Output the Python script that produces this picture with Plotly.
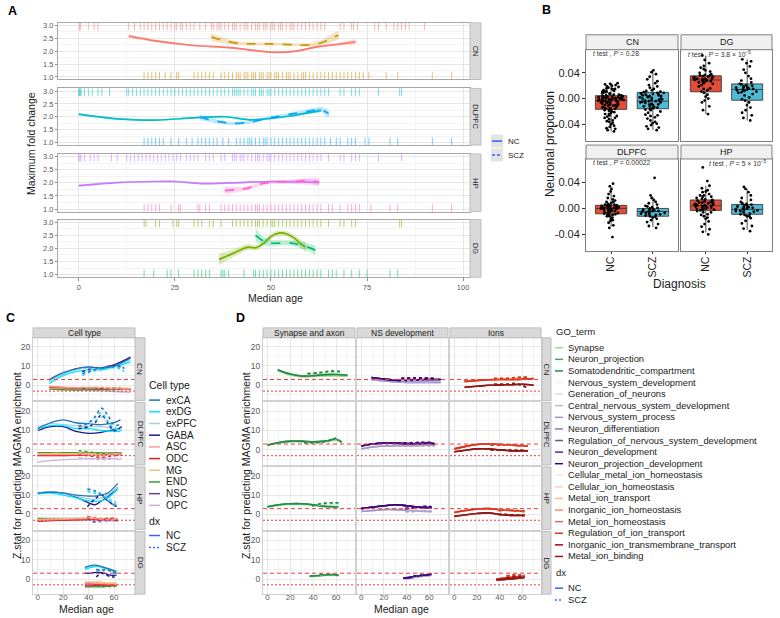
import plotly.graph_objects as go

W, H = 780, 618
FONT = "Liberation Sans, Arial, sans-serif"

REGIONS = ["CN", "DLPFC", "HP", "DG"]

# ---------------- Panel A : smoothed maximum fold change ----------------
A_CN_NC_X = [13, 20, 30, 40, 50, 56, 62, 67, 72]
A_CN_NC_Y = [2.59, 2.40, 2.22, 2.13, 1.96, 1.99, 2.17, 2.26, 2.36]
A_CN_NC_SE = [0.08, 0.05, 0.03, 0.03, 0.03, 0.03, 0.04, 0.05, 0.08]
A_CN_SCZ_X = [34.5, 38, 42, 50, 56, 60, 63, 67.5]
A_CN_SCZ_Y = [2.55, 2.40, 2.30, 2.28, 2.25, 2.24, 2.32, 2.62]
A_CN_SCZ_SE = [0.15, 0.10, 0.07, 0.06, 0.06, 0.07, 0.09, 0.15]

A_DL_NC_X = [0, 5, 10, 20, 30, 38, 45, 50, 55, 60, 63]
A_DL_NC_Y = [2.10, 2.00, 1.92, 1.87, 1.96, 2.00, 1.88, 1.94, 2.03, 2.16, 2.25]
A_DL_NC_SE = [0.05, 0.04, 0.04, 0.03, 0.03, 0.03, 0.03, 0.03, 0.04, 0.05, 0.07]
A_DL_SCZ_X = [31.5, 35, 40, 45, 50, 55, 60, 63, 65]
A_DL_SCZ_Y = [1.98, 1.85, 1.74, 1.80, 1.97, 2.10, 2.22, 2.28, 2.12]
A_DL_SCZ_SE = [0.12, 0.08, 0.06, 0.06, 0.05, 0.06, 0.08, 0.10, 0.14]

A_HP_NC_X = [0, 10, 20, 25, 32, 40, 50, 62.5]
A_HP_NC_Y = [1.89, 2.01, 2.05, 2.05, 1.97, 2.00, 2.05, 2.02]
A_HP_NC_SE = [0.05, 0.03, 0.03, 0.03, 0.03, 0.03, 0.04, 0.07]
A_HP_SCZ_X = [38, 41, 44, 48, 52, 56, 60, 62.5]
A_HP_SCZ_Y = [1.70, 1.74, 1.80, 1.98, 2.03, 2.05, 2.09, 2.03]
A_HP_SCZ_SE = [0.15, 0.10, 0.08, 0.07, 0.07, 0.08, 0.10, 0.14]

A_DG_NC_X = [36.5, 40, 44, 46, 48, 50, 52, 54, 56, 58, 59]
A_DG_NC_Y = [1.58, 1.80, 2.05, 2.02, 2.18, 2.45, 2.58, 2.56, 2.40, 2.15, 2.05]
A_DG_NC_SE = [0.22, 0.15, 0.12, 0.10, 0.10, 0.10, 0.10, 0.10, 0.12, 0.15, 0.18]
A_DG_SCZ_X = [46, 48, 50, 55, 60, 61.5]
A_DG_SCZ_Y = [2.50, 2.29, 2.20, 2.21, 2.03, 1.93]
A_DG_SCZ_SE = [0.25, 0.15, 0.12, 0.10, 0.15, 0.18]

A_RUG_CN_NC = [0.2, 0.5, 2.5, 4, 5, 13, 14.5, 16, 17, 18, 19, 20, 21, 22, 23, 24, 25, 25.5, 26.5, 27, 28, 29,
               30, 31.5, 33, 34.5, 35, 36, 36.5, 37, 38, 39, 40, 40.5, 41, 42, 43, 43.5, 44, 45, 46, 46.5, 47,
               48, 48.5, 49, 50, 50.5, 51, 52, 52.5, 53, 54, 55, 55.5, 56, 57, 58, 59, 60, 61, 62, 63, 64, 68,
               69, 71, 71.5, 72.5, 77, 78, 80, 82, 83, 84, 85, 86, 90]
A_RUG_CN_SCZ = [17, 18, 19, 20, 21, 22.5, 24, 25.5, 26, 30, 31, 32, 33, 34, 35, 37, 38, 39, 40, 41, 41.5, 42,
                43, 43.5, 44, 45, 45.5, 46, 47, 47.5, 48, 49, 49.5, 50, 51, 51.5, 52, 53, 54, 54.5, 55, 56, 57,
                58, 58.5, 59, 60, 61, 62, 63, 64, 65, 66, 67, 68, 69, 70, 71, 72, 73, 74, 75.5, 80, 83, 92, 97]
A_RUG_DL_NC = [0, 0.2, 0.4, 0.6, 1.5, 2.5, 3.5, 5, 6, 8, 12.5, 13, 14, 15, 16, 17, 18, 19, 20, 21, 22, 23, 24,
               25, 26, 27, 28, 29, 30, 31, 32, 33, 34, 35, 36, 37, 38, 39, 40, 40.5, 41, 41.5, 42, 43, 44, 45,
               45.5, 46, 47, 47.5, 48, 49, 49.5, 50, 51, 52, 53, 54, 55, 56, 57, 58, 59, 60, 61, 62, 63, 64, 65,
               68, 69, 71, 72, 73, 78, 83.5, 84]
A_RUG_DL_SCZ = [17, 18, 19, 20, 21, 22, 24, 26, 28, 29.5, 31, 32, 33, 34, 35, 36, 37.5, 39, 41, 42, 43, 44,
                44.5, 45, 46, 47, 48, 48.5, 49, 50, 51, 52, 53, 54, 55, 56, 57, 58, 59, 60, 61, 62, 63, 64, 65.5,
                67, 68, 70, 71, 72, 74.5, 75.5, 81, 83, 92, 97]
A_RUG_HP_NC = [0, 0.3, 0.6, 1.5, 3, 4, 5, 8.5, 10, 12.5, 13.5, 14.5, 15.5, 16.5, 17.5, 18.5, 19.5, 20.5, 21.5,
               22.5, 23.5, 24.5, 25.5, 26.5, 28, 29, 30, 31, 33, 34, 35, 37, 38, 40, 40.5, 41, 42, 42.5, 43, 44,
               45, 46, 46.5, 47, 48, 49, 49.5, 50, 51, 52, 53, 54, 55, 56, 57, 58, 59, 60, 61, 62, 63, 65, 68,
               69, 71, 72, 73, 78, 84]
A_RUG_HP_SCZ = [17, 18, 19, 20, 21, 24, 26, 26.5, 31, 31.5, 33, 34, 37, 38, 39, 40, 41, 42, 43, 44, 45, 46,
                46.5, 47, 48, 49, 50, 51, 52, 53, 54, 55, 56, 57, 58, 59, 60, 61, 62, 63, 65, 66, 68, 70, 71, 72,
                73, 76, 81, 83, 92, 97]
A_RUG_DG_NC = [17, 17.5, 20, 21, 24.5, 25.5, 26, 30, 31, 32, 34, 35, 37, 40, 41, 42, 43, 44, 45, 46, 46.5, 47,
               48, 49, 50, 50.5, 51, 52, 53, 54, 55, 56, 57, 58, 59, 60, 61, 62, 63, 65, 68, 69, 71, 72, 83.5, 84]
A_RUG_DG_SCZ = [17, 19.5, 23, 24, 26, 30, 31, 32, 33, 34, 37, 37.5, 38, 39, 43, 45.5, 46, 47, 48, 49, 50, 51,
                52, 53, 54, 55, 56, 57, 58, 59, 60, 61, 62, 63, 65, 66, 67, 69, 71, 73, 75, 81, 83]

A_X_TICKS = [0, 25, 50, 75, 100]

# ---------------- Panel B : neuronal proportion ----------------
B_DX = ["NC", "SCZ"]
# [lower whisker, q1, median, q3, upper whisker]
B_CN_NC_STATS = [-0.051, -0.0167, -0.003, 0.0046, 0.024]
B_CN_SCZ_STATS = [-0.049, -0.0157, -0.004, 0.0096, 0.044]
B_DG_NC_STATS = [-0.024, 0.0106, 0.0289, 0.0354, 0.067]
B_DG_SCZ_STATS = [-0.034, -0.0025, 0.0142, 0.0228, 0.061]
B_DL_NC_STATS = [-0.028, -0.0083, 0.0, 0.0047, 0.024]
B_DL_SCZ_STATS = [-0.029, -0.012, -0.0047, 0.0, 0.018]
B_HP_NC_STATS = [-0.037, -0.003, 0.004, 0.013, 0.035]
B_HP_SCZ_STATS = [-0.033, -0.009, -0.0015, 0.006, 0.030]

B_CN_NC = [-0.051, -0.049, -0.047, -0.046, -0.044, -0.042, -0.040, -0.038, -0.036, -0.034, -0.032, -0.030,
           -0.028, -0.026, -0.024, -0.022, -0.020, -0.018, -0.017, -0.016, -0.015, -0.014, -0.013, -0.012,
           -0.011, -0.010, -0.009, -0.008, -0.007, -0.006, -0.005, -0.004, -0.004, -0.003, -0.003, -0.002,
           -0.002, -0.001, -0.001, 0.000, 0.000, 0.001, 0.001, 0.002, 0.002, 0.003, 0.003, 0.004, 0.004,
           0.005, 0.005, 0.006, 0.007, 0.008, 0.009, 0.010, 0.011, 0.012, 0.013, 0.014, 0.015, 0.016, 0.017,
           0.018, 0.019, 0.020, 0.021, 0.022, 0.023, 0.024, -0.013, -0.009, -0.006, -0.002, 0.001, 0.003,
           -0.019, -0.027, -0.035, 0.008, -0.011, -0.005, 0.000, 0.012, -0.015, -0.024, -0.008, -0.003,
           0.002, -0.016, 0.006, -0.010, -0.001, 0.004, -0.021, 0.010, -0.007, -0.004, 0.015, -0.030]
B_CN_SCZ = [-0.049, -0.047, -0.045, -0.043, -0.041, -0.039, -0.036, -0.034, -0.031, -0.029, -0.027, -0.025,
            -0.022, -0.020, -0.018, -0.016, -0.015, -0.013, -0.012, -0.010, -0.009, -0.008, -0.007, -0.006,
            -0.005, -0.004, -0.004, -0.003, -0.002, -0.001, 0.000, 0.001, 0.002, 0.003, 0.004, 0.005, 0.006,
            0.007, 0.008, 0.009, 0.010, 0.011, 0.013, 0.015, 0.017, 0.019, 0.021, 0.024, 0.027, 0.030, 0.034,
            0.038, 0.041, 0.044, -0.012, -0.006, 0.002, 0.007, -0.017, -0.026, 0.012, -0.038, -0.002, 0.005,
            -0.009, 0.000, -0.014, 0.004, -0.005, 0.009]
B_DG_NC = [-0.024, -0.018, -0.012, -0.006, -0.003, 0.000, 0.003, 0.006, 0.009, 0.011, 0.013, 0.016, 0.019,
           0.021, 0.023, 0.025, 0.026, 0.027, 0.028, 0.029, 0.029, 0.030, 0.031, 0.031, 0.032, 0.033, 0.033,
           0.034, 0.035, 0.036, 0.037, 0.038, 0.040, 0.042, 0.044, 0.046, 0.048, 0.051, 0.055, 0.060, 0.067,
           0.027, 0.030, 0.034, 0.024, 0.031, 0.036, 0.015]
B_DG_SCZ = [-0.034, -0.030, -0.026, -0.022, -0.018, -0.014, -0.010, -0.006, -0.003, -0.001, 0.002, 0.005,
            0.007, 0.009, 0.011, 0.012, 0.013, 0.014, 0.015, 0.016, 0.017, 0.018, 0.019, 0.020, 0.021, 0.022,
            0.023, 0.025, 0.028, 0.031, 0.035, 0.040, 0.045, 0.050, 0.055, 0.058, 0.061, 0.014, 0.017, 0.010]
B_DL_NC = [-0.044, -0.030, -0.026, -0.022, -0.019, -0.016, -0.014, -0.012, -0.010, -0.009, -0.008, -0.007,
           -0.006, -0.005, -0.004, -0.003, -0.002, -0.002, -0.001, -0.001, 0.000, 0.000, 0.000, 0.001, 0.001,
           0.002, 0.002, 0.003, 0.003, 0.004, 0.004, 0.005, 0.006, 0.007, 0.008, 0.010, 0.012, 0.014, 0.016,
           0.019, 0.022, 0.026, 0.030, 0.034, 0.038, -0.004, 0.001, -0.008, 0.003, -0.012, 0.006, -0.002,
           0.010, -0.018, 0.000, 0.004, -0.006, 0.002, -0.003, 0.005, -0.010, 0.001]
B_DL_SCZ = [-0.030, -0.027, -0.024, -0.021, -0.018, -0.016, -0.014, -0.012, -0.011, -0.010, -0.009, -0.008,
            -0.007, -0.006, -0.005, -0.005, -0.004, -0.003, -0.002, -0.001, 0.000, 0.001, 0.002, 0.004, 0.006,
            0.008, 0.010, 0.013, 0.016, 0.020, 0.047, -0.007, -0.002, -0.013, 0.003, -0.009, -0.004]
B_HP_NC = [-0.040, -0.036, -0.032, -0.028, -0.024, -0.020, -0.016, -0.012, -0.009, -0.006, -0.004, -0.003,
           -0.002, -0.001, 0.000, 0.001, 0.002, 0.003, 0.004, 0.004, 0.005, 0.006, 0.007, 0.008, 0.009, 0.010,
           0.011, 0.012, 0.013, 0.014, 0.016, 0.018, 0.020, 0.022, 0.025, 0.028, 0.031, 0.035, 0.042, 0.063,
           0.005, 0.012, -0.002, 0.018, 0.008, -0.010, 0.003, 0.015, -0.006, 0.026, 0.001, 0.009, -0.014,
           0.006, 0.020, -0.001]
B_HP_SCZ = [-0.035, -0.031, -0.027, -0.023, -0.019, -0.015, -0.012, -0.010, -0.009, -0.008, -0.006, -0.005,
            -0.004, -0.003, -0.002, -0.001, -0.001, 0.000, 0.001, 0.002, 0.003, 0.004, 0.005, 0.006, 0.008,
            0.010, 0.013, 0.016, 0.020, 0.025, 0.030, 0.033, -0.004, 0.002, -0.012, 0.007]
B_PVALUES = {"CN": "0.28", "DG": "3.8 × 10<sup>−5</sup>", "DLPFC": "0.00022", "HP": "5 × 10<sup>−5</sup>"}

# ---------------- Panel C : Z stat by cell type ----------------
C_CELLTYPES = ["exCA", "exDG", "exPFC", "GABA", "ASC", "ODC", "MG", "END", "NSC", "OPC"]

C_CN_NC_X = [9, 20, 30, 40, 50, 60, 73]
C_CN_NC = {
    "exCA": [3, 6.5, 8.5, 9.5, 8.8, 10, 14], "exDG": [1, 5, 7, 8, 8, 9.5, 12],
    "exPFC": [2, 6, 8, 9, 8.5, 10, 13], "GABA": [2.5, 6, 8.5, 9.2, 9, 10.5, 14.5],
    "ASC": [-0.5, -1, -1.2, -1.5, -1.5, -1.8, -2], "ODC": [-1, -1.2, -1.5, -1.5, -1.8, -2, -2.2],
    "MG": [-1.5, -1.5, -1.6, -1.5, -1.5, -1.5, -1.5], "END": [-2, -2.3, -2.5, -2.4, -2.2, -2.0, -2.0],
    "NSC": [-1.5, -1.6, -1.7, -1.6, -1.7, -1.8, -2], "OPC": [-1.8, -2, -2.2, -2.4, -2.8, -3.2, -3.6]}
C_CN_SCZ_X = [35, 42, 50, 58, 65, 68]
C_CN_SCZ = {
    "exCA": [6, 7.5, 9, 9.5, 10, 8.5], "exDG": [5, 7, 8, 9, 8.5, 7], "exPFC": [6, 8, 9, 9.5, 10, 9],
    "GABA": [7, 8.5, 9, 10, 9.5, 9], "ASC": [-1, -1.2, -1, -1.3, -1.5, -1.5],
    "ODC": [-1.5, -1.3, -1.5, -1.2, -1.6, -1.8], "MG": [-1.2, -1.5, -1.3, -1.5, -1.4, -1.5],
    "END": [-2, -2.2, -2, -2.3, -2, -2.2], "NSC": [-1.5, -1.8, -1.6, -1.5, -2, -2],
    "OPC": [-2.5, -2.8, -3, -3, -3.2, -3.5]}

C_DL_NC_X = [0, 10, 20, 30, 40, 50, 60, 65]
C_DL_NC = {
    "exCA": [11, 14, 15.5, 14, 13.5, 13, 14, 15.5], "exDG": [11, 12.5, 12.5, 11, 11, 10, 9.5, 9.5],
    "exPFC": [12, 13.5, 13, 12.5, 12, 12, 11, 10], "GABA": [10, 12, 12, 9.5, 8.5, 9, 10.5, 11],
    "ASC": [-2.5, -2.5, -2.5, -2.4, -2.3, -2.2, -2, -2], "ODC": [-3, -3, -3, -2.8, -2.6, -2.5, -2.2, -2],
    "MG": [-2, -2, -2, -2, -1.8, -1.8, -1.8, -1.8], "END": [-1.5, -1.5, -1.5, -1.4, -1.4, -1.5, -1.5, -1.5],
    "NSC": [-2, -2, -2, -2, -2, -2, -1.8, -1.5], "OPC": [-6.3, -5.5, -5, -4.8, -4.5, -4.5, -4.5, -5]}
C_DL_SCZ_X = [32, 40, 45, 50, 55, 60, 66]
C_DL_SCZ = {
    "exCA": [12, 14, 17, 21.5, 18, 13, 13], "exDG": [12, 14, 17, 19, 15, 11, 10],
    "exPFC": [13, 13, 15, 17, 14, 12, 11], "GABA": [11, 12, 14, 18, 14, 10, 12],
    "ASC": [-2, -2.5, -3, -3.5, -3, -2.5, -2], "ODC": [-2.5, -3, -3.5, -4, -3.5, -3, -2.5],
    "MG": [-1.5, -2, -2.5, -3, -2.5, -2, -2], "END": [-0.5, -1, -1.5, -2, -2, -1.5, -1.5],
    "NSC": [-2, -2.5, -3, -3.5, -3, -2.5, -2], "OPC": [-4, -4.5, -5, -5, -5, -4.5, -4.5]}

C_HP_NC_X = [0, 10, 20, 30, 40, 45, 50, 55, 63]
C_HP_NC = {
    "exCA": [11, 11.5, 11, 10, 9.5, 9.5, 10, 11, 16], "exDG": [10.5, 11, 10, 8.5, 7, 6.8, 7, 8.5, 13],
    "exPFC": [11, 11.5, 11, 9.5, 8, 7.8, 8.5, 10, 14], "GABA": [11, 11.5, 11, 9, 6, 5, 7, 9, 14],
    "ASC": [-3, -2.8, -2.5, -2.3, -2.2, -2.2, -2.3, -2.5, -2.5],
    "ODC": [-3.5, -3.2, -3, -2.8, -2.5, -2.5, -2.5, -2.6, -2.8],
    "MG": [-2.5, -2.3, -2.2, -2, -2, -2, -2, -2, -2], "END": [-2, -2, -2, -2, -2, -2, -2.2, -2.3, -2.5],
    "NSC": [-2, -2.2, -2.3, -2.5, -2.5, -2.6, -2.6, -2.8, -3],
    "OPC": [-3.5, -3.3, -3, -3, -3, -3, -3.2, -3.3, -3.5]}
C_HP_SCZ_X = [39, 45, 50, 55, 62]
C_HP_SCZ = {
    "exCA": [13, 12, 10, 7, 4], "exDG": [12, 11, 10, 8, 5], "exPFC": [13.5, 12.5, 11, 9, 6],
    "GABA": [4, 8, 10, 7, 4], "ASC": [-1.5, -2, -2.5, -2.5, -2.5], "ODC": [-1, -2, -2.5, -2, -2],
    "MG": [-1, -1.5, -2, -2, -2], "END": [-1.5, -2, -2.5, -2.5, -2.5], "NSC": [-2, -4, -3, -2.5, -2.5],
    "OPC": [-2.5, -3.5, -4, -3.5, -3]}

C_DG_NC_X = [37, 42, 47, 52, 57, 62]
C_DG_NC = {
    "exCA": [6, 7, 7, 6, 5, 4], "exDG": [5, 6, 6.5, 6, 5, 3], "exPFC": [5.5, 6.5, 6.5, 5.5, 4.5, 3.5],
    "GABA": [3, 3, 3.5, 3, 2, 2], "ASC": [-2, -2, -2.2, -2.5, -2.5, -2.5],
    "ODC": [-3.5, -3.5, -3.2, -3, -3, -3], "MG": [-1.5, -1.5, -1.5, -1.8, -2, -2],
    "END": [-4, -4, -4, -4, -3.5, -3.5], "NSC": [-2.5, -2.5, -2.8, -3, -3, -3],
    "OPC": [-3, -3, -3.2, -3.5, -3.5, -3.5]}
C_DG_SCZ_X = [46, 50, 54, 58, 62]
C_DG_SCZ = {
    "exCA": [5, 4.5, 5, 4, 3], "exDG": [4, 4.5, 5, 4, 2.5], "exPFC": [4.5, 4, 4.5, 3.5, 3],
    "GABA": [1, 3, 2, 1, 1.5], "ASC": [-2, -2.5, -2.5, -3, -3], "ODC": [-3, -3.5, -3, -3.5, -3],
    "MG": [-1.5, -2, -2, -2.5, -2], "END": [-3.5, -4, -3.5, -4, -3.5], "NSC": [-2.5, -3, -3, -3.5, -3],
    "OPC": [-3, -3.5, -3.5, -4, -3.5]}

Z_THRESHOLD = 3.0
CD_X_TICKS = [0, 20, 40, 60]
CD_Y_TICKS = [0, 10, 20]

# ---------------- Panel D : Z stat by GO term ----------------
D_GROUPS = ["Synapse and axon", "NS development", "Ions"]
GO_SYN = ["Synapse", "Neuron_projection", "Somatodendritic_compartment"]
GO_NS = ["Nervous_system_development", "Generation_of_neurons", "Central_nervous_system_development",
         "Nervous_system_process", "Neuron_differentiation", "Regulation_of_nervous_system_development",
         "Neuron_development", "Neuron_projection_development"]
GO_ION = ["Cellular_metal_ion_homeostasis", "Cellular_ion_homeostasis", "Metal_ion_transport",
          "Inorganic_ion_homeostasis", "Metal_ion_homeostasis", "Regulation_of_ion_transport",
          "Inorganic_ion_transmembrane_transport", "Metal_ion_binding"]
# which of the two traced curves (upper / lower) each term follows
GO_LEVEL = {"Synapse": "lo", "Neuron_projection": "hi", "Somatodendritic_compartment": "hi",
            "Nervous_system_development": "lo", "Generation_of_neurons": "lo",
            "Central_nervous_system_development": "lo", "Nervous_system_process": "lo",
            "Neuron_differentiation": "hi", "Regulation_of_nervous_system_development": "hi",
            "Neuron_development": "hi", "Neuron_projection_development": "hi",
            "Cellular_metal_ion_homeostasis": "hi", "Cellular_ion_homeostasis": "hi",
            "Metal_ion_transport": "hi", "Inorganic_ion_homeostasis": "hi", "Metal_ion_homeostasis": "hi",
            "Regulation_of_ion_transport": "hi", "Inorganic_ion_transmembrane_transport": "lo",
            "Metal_ion_binding": "lo"}

D_NC_X = {"CN": [9, 20, 30, 40, 50, 60, 70], "DLPFC": [0, 10, 20, 30, 40, 50, 60, 65],
          "HP": [0, 10, 20, 30, 40, 50, 62], "DG": [37, 45, 53, 62]}
D_SCZ_X = {"CN": [35, 45, 55, 65], "DLPFC": [32, 42, 52, 62], "HP": [39, 46, 54, 62], "DG": [46, 52, 57, 62]}

D_SYN_NC_HI = {"CN": [8, 5.8, 4.8, 5, 5.5, 5.6, 5.2], "DLPFC": [2.5, 3.8, 4.5, 4.5, 4.2, 4.5, 5.5, 4],
               "HP": [4, 5, 5.5, 5.5, 5, 4.2, 4], "DG": [1.5, 1.8, 2.3, 2]}
D_SYN_NC_LO = {"CN": [7.5, 5.3, 4.3, 4.5, 4.8, 4.8, 4.6], "DLPFC": [2.2, 3.4, 4.1, 4.1, 3.9, 4.1, 5, 3.6],
               "HP": [3.6, 4.6, 5.1, 5.1, 4.6, 3.8, 3.6], "DG": [1.2, 1.5, 2, 1.8]}
D_SYN_SCZ_HI = {"CN": [6, 6.5, 7.3, 7], "DLPFC": [3.8, 3.8, 4.5, 6.5], "HP": [4.5, 5.5, 6, 6],
                "DG": [2.5, 2.2, 2.3, 1.8]}
D_SYN_SCZ_LO = {"CN": [5.5, 6, 6.5, 6.3], "DLPFC": [3.4, 3.4, 4, 5.5], "HP": [4.1, 5, 5.5, 5.5],
                "DG": [2.2, 2, 2, 1.6]}

D_NS_NC_HI = {"CN": [4, 3.2, 2.6, 2.5, 2.8, 3, 3], "DLPFC": [2, 3, 3.5, 3.5, 3.2, 3.2, 3.5, 3.2],
              "HP": [3, 3.8, 4.5, 5, 4.5, 3.8, 3.5], "DG": [0.5, 1, 1.8, 2.5]}
D_NS_NC_LO = {"CN": [3, 2.2, 1.8, 1.5, 1.5, 1.5, 1.5], "DLPFC": [0.5, 1.5, 2, 2.2, 2.2, 2.2, 2.5, 2],
              "HP": [1.5, 2, 2.5, 2.5, 2.2, 1.8, 1.5], "DG": [0.2, 0.6, 1.4, 2]}
D_NS_SCZ_HI = {"CN": [3.5, 3.8, 3.8, 3.5], "DLPFC": [3.5, 3.5, 3.8, 3.8], "HP": [3, 3.5, 4, 4],
               "DG": [1.5, 1.8, 2, 2.5]}
D_NS_SCZ_LO = {"CN": [2, 2, 2, 1.5], "DLPFC": [2, 2, 2.2, 2], "HP": [1.5, 1.5, 1.8, 1.5],
               "DG": [1, 1.3, 1.6, 2]}

D_ION_NC_HI = {"CN": [2, 2.5, 2.8, 3, 3, 3.2, 3.5], "DLPFC": [0.5, 1.8, 2.8, 3, 2.8, 2.5, 2, 2],
               "HP": [1, 2, 2.8, 3, 2.5, 2, 1.5], "DG": [0, 0.5, 1, 1.5]}
D_ION_NC_LO = {"CN": [-1, -0.5, 0, 0.2, 0.3, 0.5, 0], "DLPFC": [-1, -0.2, 0.5, 0.5, 0, -0.5, -0.5, -0.5],
               "HP": [-1, -0.2, 0.5, 0.8, 0, -0.5, -0.5], "DG": [-0.5, -0.2, 0.2, 0.8]}
D_ION_SCZ_HI = {"CN": [3.5, 3.5, 4, 4.2], "DLPFC": [2.5, 2.5, 2.5, 2.2], "HP": [2, 2.2, 2, 1.8],
                "DG": [1.5, 2, 2, 2.2]}
D_ION_SCZ_LO = {"CN": [0.5, 0.5, 0.8, -1.5], "DLPFC": [0, 0, -0.2, -0.2], "HP": [0, 0, -0.3, -0.5],
                "DG": [0.5, 1, 1, 1.2]}

# ---------------- styles ----------------
A_COL = {"CN": ("#F8766D", "#CD9600"), "DLPFC": ("#00BFC4", "#00A9FF"),
         "HP": ("#C77CFF", "#FF61CC"), "DG": ("#7CAE00", "#00BE67")}
B_FILL = {"NC": "#E64B35", "SCZ": "#4DBBD5"}
C_COL = {"exCA": "#1F78B4", "exDG": "#00E5FF", "exPFC": "#A6CEE3", "GABA": "#1A1A8C", "ASC": "#FB9A99",
         "ODC": "#E31A1C", "MG": "#FDBF6F", "END": "#33A02C", "NSC": "#6A3D9A", "OPC": "#CAB2D6"}
GO_COL = dict(zip(GO_SYN, ["#A1D99B", "#41AB5D", "#238B45"]))
GO_COL.update(zip(GO_NS, ["#F2F0F7", "#DADAEB", "#BCBDDC", "#9E9AC8", "#807DBA", "#6A51A3", "#54278F",
                          "#3F007D"]))
GO_COL.update(zip(GO_ION, ["#FEE8C8", "#FDD49E", "#FDBB84", "#FC8D59", "#EF6548", "#D7301F", "#B30000",
                           "#8B1A1A"]))


def X(p):
    return p / W


def Y(p):
    return 1 - p / H


def rgba(hx, a):
    hx = hx.lstrip("#")
    return "rgba(%d,%d,%d,%.3f)" % (int(hx[0:2], 16), int(hx[2:4], 16), int(hx[4:6], 16), a)


fig = go.Figure()
layout = dict(width=W, height=H, margin=dict(l=0, r=0, t=0, b=0), paper_bgcolor="white",
              plot_bgcolor="white", showlegend=False, font=dict(family=FONT, color="#1A1A1A"))
shapes, annots = [], []
_n = [0]


def axes(x0, x1, y0, y1, xkw, ykw):
    _n[0] += 1
    s = "" if _n[0] == 1 else str(_n[0])
    xa = dict(domain=[X(x0), X(x1)], anchor="y" + s, zeroline=False)
    xa.update(xkw)
    ya = dict(domain=[Y(y1), Y(y0)], anchor="x" + s, zeroline=False)
    ya.update(ykw)
    layout["xaxis" + s] = xa
    layout["yaxis" + s] = ya
    return "x" + s, "y" + s


def text(x, y, s, size, color="#1A1A1A", xanchor="left", yanchor="middle", angle=0):
    annots.append(dict(x=X(x), y=Y(y), xref="paper", yref="paper", text=s, showarrow=False,
                       textangle=angle, xanchor=xanchor, yanchor=yanchor,
                       font=dict(size=size, color=color, family=FONT)))


def strip(x0, x1, y0, y1, s, angle=0, fill="#D9D9D9", border="#BDBDBD", size=8.5):
    shapes.append(dict(type="rect", xref="paper", yref="paper", x0=X(x0), x1=X(x1), y0=Y(y1), y1=Y(y0),
                       fillcolor=fill, line=dict(color=border, width=1), layer="above"))
    text((x0 + x1) / 2, (y0 + y1) / 2, s, size, xanchor="center", angle=angle)


def pline(x0, y0, x1, y1, color, width=1.5, dash="solid"):
    shapes.append(dict(type="line", xref="paper", yref="paper", x0=X(x0), x1=X(x1), y0=Y(y0), y1=Y(y1),
                       line=dict(color=color, width=width, dash=dash), layer="above"))


# ================= Panel A =================
A_DATA = {"CN": ((A_CN_NC_X, A_CN_NC_Y, A_CN_NC_SE), (A_CN_SCZ_X, A_CN_SCZ_Y, A_CN_SCZ_SE),
                 A_RUG_CN_NC, A_RUG_CN_SCZ),
          "DLPFC": ((A_DL_NC_X, A_DL_NC_Y, A_DL_NC_SE), (A_DL_SCZ_X, A_DL_SCZ_Y, A_DL_SCZ_SE),
                    A_RUG_DL_NC, A_RUG_DL_SCZ),
          "HP": ((A_HP_NC_X, A_HP_NC_Y, A_HP_NC_SE), (A_HP_SCZ_X, A_HP_SCZ_Y, A_HP_SCZ_SE),
                 A_RUG_HP_NC, A_RUG_HP_SCZ),
          "DG": ((A_DG_NC_X, A_DG_NC_Y, A_DG_NC_SE), (A_DG_SCZ_X, A_DG_SCZ_Y, A_DG_SCZ_SE),
                 A_RUG_DG_NC, A_RUG_DG_SCZ)}
A_ROWS = [(21, 78), (87, 144), (153, 211), (219, 277)]
for i, reg in enumerate(REGIONS):
    top, bot = A_ROWS[i]
    last = i == len(REGIONS) - 1
    xkw = dict(range=[-5.4, 101.8], tickvals=A_X_TICKS, showgrid=True, gridcolor="#E6E6E6",
               minor=dict(dtick=12.5, tick0=0, showgrid=True, gridcolor="#F3F3F3"),
               showline=True, mirror=True, linecolor="#A8A8A8", ticks="outside" if last else "",
               ticklen=3, tickcolor="#8C8C8C", showticklabels=last,
               tickfont=dict(size=7.5, color="#5A5A5A"))
    ykw = dict(range=[0.9, 3.1], dtick=0.5, tick0=1, tickformat=".1f", showgrid=True, gridcolor="#E6E6E6",
               minor=dict(dtick=0.25, tick0=1, showgrid=True, gridcolor="#F3F3F3"),
               showline=True, mirror=True, linecolor="#A8A8A8", ticks="outside", ticklen=2,
               tickcolor="#8C8C8C", tickfont=dict(size=7.5, color="#5A5A5A"))
    xr, yr = axes(58, 470, top, bot, xkw, ykw)
    nc, scz, rug_nc, rug_scz = A_DATA[reg]
    c_nc, c_scz = A_COL[reg]
    fig.add_trace(go.Scatter(x=rug_nc, y=[3.0] * len(rug_nc), mode="markers", xaxis=xr, yaxis=yr,
                             marker=dict(symbol="line-ns", size=7, line=dict(width=1, color=rgba(c_nc, 0.55))),
                             hoverinfo="skip"))
    fig.add_trace(go.Scatter(x=rug_scz, y=[1.0] * len(rug_scz), mode="markers", xaxis=xr, yaxis=yr,
                             marker=dict(symbol="line-ns", size=7, line=dict(width=1, color=rgba(c_scz, 0.55))),
                             hoverinfo="skip"))
    for (xs, ys, se), col, dash in ((nc, c_nc, "solid"), (scz, c_scz, "dash")):
        up = [a + b for a, b in zip(ys, se)]
        lo = [a - b for a, b in zip(ys, se)]
        fig.add_trace(go.Scatter(x=xs + xs[::-1], y=up + lo[::-1], fill="toself", mode="lines",
                                 fillcolor=rgba(col, 0.25), line=dict(width=0, shape="spline", smoothing=0.8),
                                 xaxis=xr, yaxis=yr, hoverinfo="skip"))
        fig.add_trace(go.Scatter(x=xs, y=ys, mode="lines", xaxis=xr, yaxis=yr,
                                 line=dict(color=col, width=1.7, dash=dash, shape="spline", smoothing=0.8)))
    strip(470, 481, top, bot, reg, angle=90, size=7.5)

text(6, 9, "<b>A</b>", 12.5, color="#000000")
text(275, 298, "Median age", 10.5, xanchor="center")
text(31, 142, "Maximum fold change", 10.5, xanchor="center", angle=-90)
# legend of panel A
for j, (lab, dash) in enumerate((("NC", "solid"), ("SCZ", "dash"))):
    yc = 140 + 14 * j
    shapes.append(dict(type="rect", xref="paper", yref="paper", x0=X(491), x1=X(503), y0=Y(yc + 6.5),
                       y1=Y(yc - 6.5), fillcolor="#E3E3E3", line=dict(width=0), layer="above"))
    pline(492, yc, 502, yc, "#3366FF", 1.6, dash="3px,2px" if dash == "dash" else "solid")
    text(506, yc, lab, 8)

# ================= Panel B =================
B_DATA = {"CN": (B_CN_NC_STATS, B_CN_SCZ_STATS, B_CN_NC, B_CN_SCZ),
          "DG": (B_DG_NC_STATS, B_DG_SCZ_STATS, B_DG_NC, B_DG_SCZ),
          "DLPFC": (B_DL_NC_STATS, B_DL_SCZ_STATS, B_DL_NC, B_DL_SCZ),
          "HP": (B_HP_NC_STATS, B_HP_SCZ_STATS, B_HP_NC, B_HP_SCZ)}
B_POS = {"CN": (586, 678, 48, 140, 33), "DG": (681, 772, 48, 140, 33),
         "DLPFC": (586, 678, 158, 251, 144), "HP": (681, 772, 158, 251, 144)}
for reg in ["CN", "DG", "DLPFC", "HP"]:
    x0, x1, y0, y1, sy = B_POS[reg]
    left = x0 < 600
    bottom = y0 > 150
    xkw = dict(type="category", categoryorder="array", categoryarray=B_DX, range=[-0.6, 1.6],
               showgrid=False, showline=True, mirror=True, linecolor="#808080", linewidth=1,
               ticks="outside" if bottom else "", ticklen=2, tickcolor="#333333", showticklabels=bottom,
               tickangle=-90, ticklabelstandoff=-2, tickfont=dict(size=10.5, color="#222222"))
    ykw = dict(range=[-0.066, 0.076], tickvals=[-0.04, 0.0, 0.04], ticktext=["-0.04", "0.00", "0.04"],
               showgrid=False, showline=True, mirror=True, linecolor="#808080", linewidth=1,
               ticks="outside" if left else "", ticklen=3, tickcolor="#333333", showticklabels=left,
               tickfont=dict(size=11, color="#222222"))
    xr, yr = axes(x0, x1, y0, y1, xkw, ykw)
    st_nc, st_scz, pts_nc, pts_scz = B_DATA[reg]
    for dx, st, pts in (("NC", st_nc, pts_nc), ("SCZ", st_scz, pts_scz)):
        fig.add_trace(go.Box(x=[dx], lowerfence=[st[0]], q1=[st[1]], median=[st[2]], q3=[st[3]],
                             upperfence=[st[4]], fillcolor=B_FILL[dx], line=dict(color="#3A3A3A", width=0.9),
                             whiskerwidth=0, width=0.75, boxpoints=False, xaxis=xr, yaxis=yr))
        fig.add_trace(go.Box(x=[dx] * len(pts), y=pts, boxpoints="all", jitter=0.85, pointpos=0,
                             fillcolor="rgba(0,0,0,0)", line=dict(color="rgba(0,0,0,0)", width=0),
                             whiskerwidth=0, width=0.75, marker=dict(color="#000000", size=2.8),
                             xaxis=xr, yaxis=yr))
    strip(x0, x1, sy, y0, reg, fill="#F0F0F0", border="#808080", size=9)
    if reg == "HP":
        text(707, 162, "<i>t</i> test , <i>P</i> = " + B_PVALUES[reg], 6.8, color="#333333")
    else:
        text(x0 + 5, y0 + 4, "<i>t</i> test , <i>P</i> = " + B_PVALUES[reg], 6.8, color="#333333")

text(540, 8, "<b>B</b>", 12.5, color="#000000")
text(679, 284, "Diagnosis", 12, xanchor="center")
text(550, 143, "Neuronal proportion", 12, xanchor="center", angle=-90)

# ================= Panels C and D =================
CD_ROWS = [(338, 401), (403, 466), (468, 531), (533, 596)]
C_DATA = {"CN": (C_CN_NC_X, C_CN_NC, C_CN_SCZ_X, C_CN_SCZ),
          "DLPFC": (C_DL_NC_X, C_DL_NC, C_DL_SCZ_X, C_DL_SCZ),
          "HP": (C_HP_NC_X, C_HP_NC, C_HP_SCZ_X, C_HP_SCZ),
          "DG": (C_DG_NC_X, C_DG_NC, C_DG_SCZ_X, C_DG_SCZ)}


def cd_axes(x0, x1, y0, y1, left, bottom):
    xkw = dict(range=[-3.8, 76.5], tickvals=CD_X_TICKS, showgrid=True, gridcolor="#E8E8E8",
               minor=dict(dtick=10, tick0=0, showgrid=True, gridcolor="#F4F4F4"), showline=True,
               mirror=True, linecolor="#D0D0D0", showticklabels=bottom, ticks="", ticklabelstandoff=-5,
               tickfont=dict(size=8, color="#5A5A5A"))
    ykw = dict(range=[-7.8, 24.5], tickvals=CD_Y_TICKS, showgrid=True, gridcolor="#E8E8E8",
               minor=dict(dtick=5, tick0=0, showgrid=True, gridcolor="#F4F4F4"), showline=True,
               mirror=True, linecolor="#D0D0D0", showticklabels=left, ticks="",
               tickfont=dict(size=8.5, color="#5A5A5A"))
    xr, yr = axes(x0, x1, y0, y1, xkw, ykw)
    shapes.append(dict(type="line", xref=xr + " domain", x0=0, x1=1, yref=yr, y0=Z_THRESHOLD, y1=Z_THRESHOLD,
                       line=dict(color="#F03B3B", width=1, dash="4px,3px"), layer="above"))
    shapes.append(dict(type="line", xref=xr + " domain", x0=0, x1=1, yref=yr, y0=-Z_THRESHOLD,
                       y1=-Z_THRESHOLD, line=dict(color="#F03B3B", width=1, dash="2px,2px"), layer="above"))
    return xr, yr


for i, reg in enumerate(REGIONS):
    top, bot = CD_ROWS[i]
    last = i == len(REGIONS) - 1
    # ---- C
    xr, yr = cd_axes(33, 135, top, bot, True, last)
    nx, nv, sx, sv = C_DATA[reg]
    for ct in C_CELLTYPES[::-1]:
        fig.add_trace(go.Scatter(x=nx, y=nv[ct], mode="lines", xaxis=xr, yaxis=yr,
                                 line=dict(color=C_COL[ct], width=1.3, shape="spline")))
    for ct in C_CELLTYPES[::-1]:
        fig.add_trace(go.Scatter(x=sx, y=sv[ct], mode="lines", xaxis=xr, yaxis=yr,
                                 line=dict(color=C_COL[ct], width=1.5, dash="dot", shape="spline")))
    strip(135, 145, top, bot, reg, angle=90, size=8)
    # ---- D
    for k, (terms, nhi, nlo, shi, slo) in enumerate((
            (GO_SYN, D_SYN_NC_HI, D_SYN_NC_LO, D_SYN_SCZ_HI, D_SYN_SCZ_LO),
            (GO_NS, D_NS_NC_HI, D_NS_NC_LO, D_NS_SCZ_HI, D_NS_SCZ_LO),
            (GO_ION, D_ION_NC_HI, D_ION_NC_LO, D_ION_SCZ_HI, D_ION_SCZ_LO))):
        cx0, cx1 = [(263, 355), (357, 448), (450, 541)][k]
        xr, yr = cd_axes(cx0, cx1, top, bot, k == 0, last)
        for term in terms:
            yv = nhi[reg] if GO_LEVEL[term] == "hi" else nlo[reg]
            fig.add_trace(go.Scatter(x=D_NC_X[reg], y=yv, mode="lines", xaxis=xr, yaxis=yr,
                                     line=dict(color=GO_COL[term], width=1.6, shape="spline")))
        for term in terms:
            yv = shi[reg] if GO_LEVEL[term] == "hi" else slo[reg]
            fig.add_trace(go.Scatter(x=D_SCZ_X[reg], y=yv, mode="lines", xaxis=xr, yaxis=yr,
                                     line=dict(color=GO_COL[term], width=1.6, dash="dot", shape="spline")))
        if i == 0:
            strip(cx0, cx1, 328, 338, D_GROUPS[k], size=8.5)
    strip(542, 551, top, bot, reg, angle=90, size=8)

strip(33, 135, 328, 338, "Cell type", size=8.5)
text(4, 318, "<b>C</b>", 12.5, color="#000000")
text(234, 318, "<b>D</b>", 12.5, color="#000000")
text(86, 611, "Median age", 10.5, xanchor="center")
text(402, 611, "Median age", 10.5, xanchor="center")
text(17, 467, "Z.stat for predicting MAGMA enrichment", 10.5, xanchor="center", angle=-90)
text(246, 467, "Z.stat for predicting MAGMA enrichment", 10.5, xanchor="center", angle=-90)

# legend C
text(147, 385, "Cell type", 10.5)
for j, ct in enumerate(C_CELLTYPES):
    yc = 400.7 + 11.77 * j
    pline(149, yc, 160, yc, C_COL[ct], 1.5)
    text(164, yc, ct, 10)
text(147, 522, "dx", 10.5)
pline(149, 537, 160, 537, "#3366FF", 1.5)
text(164, 537, "NC", 10)
pline(149, 549, 160, 549, "#3366FF", 1.5, dash="2px,2px")
text(164, 549, "SCZ", 10)

# legend D
text(554, 332, "GO_term", 9.5)
for j, term in enumerate(GO_SYN + GO_NS + GO_ION):
    yc = 348 + 11.67 * j
    pline(555, yc, 563, yc, GO_COL[term], 1.5)
    text(566, yc, term, 9.3)
text(554, 574, "dx", 9.5)
pline(555, 590, 563, 590, "#3366FF", 1.5)
text(566, 590, "NC", 9.3)
pline(555, 602, 563, 602, "#3366FF", 1.5, dash="2px,2px")
text(566, 602, "SCZ", 9.3)

layout["shapes"] = shapes
layout["annotations"] = annots
fig.update_layout(**layout)
fig.write_html("out.html", config={"displayModeBar": False},
               post_script="document.body.style.margin='0px';")
